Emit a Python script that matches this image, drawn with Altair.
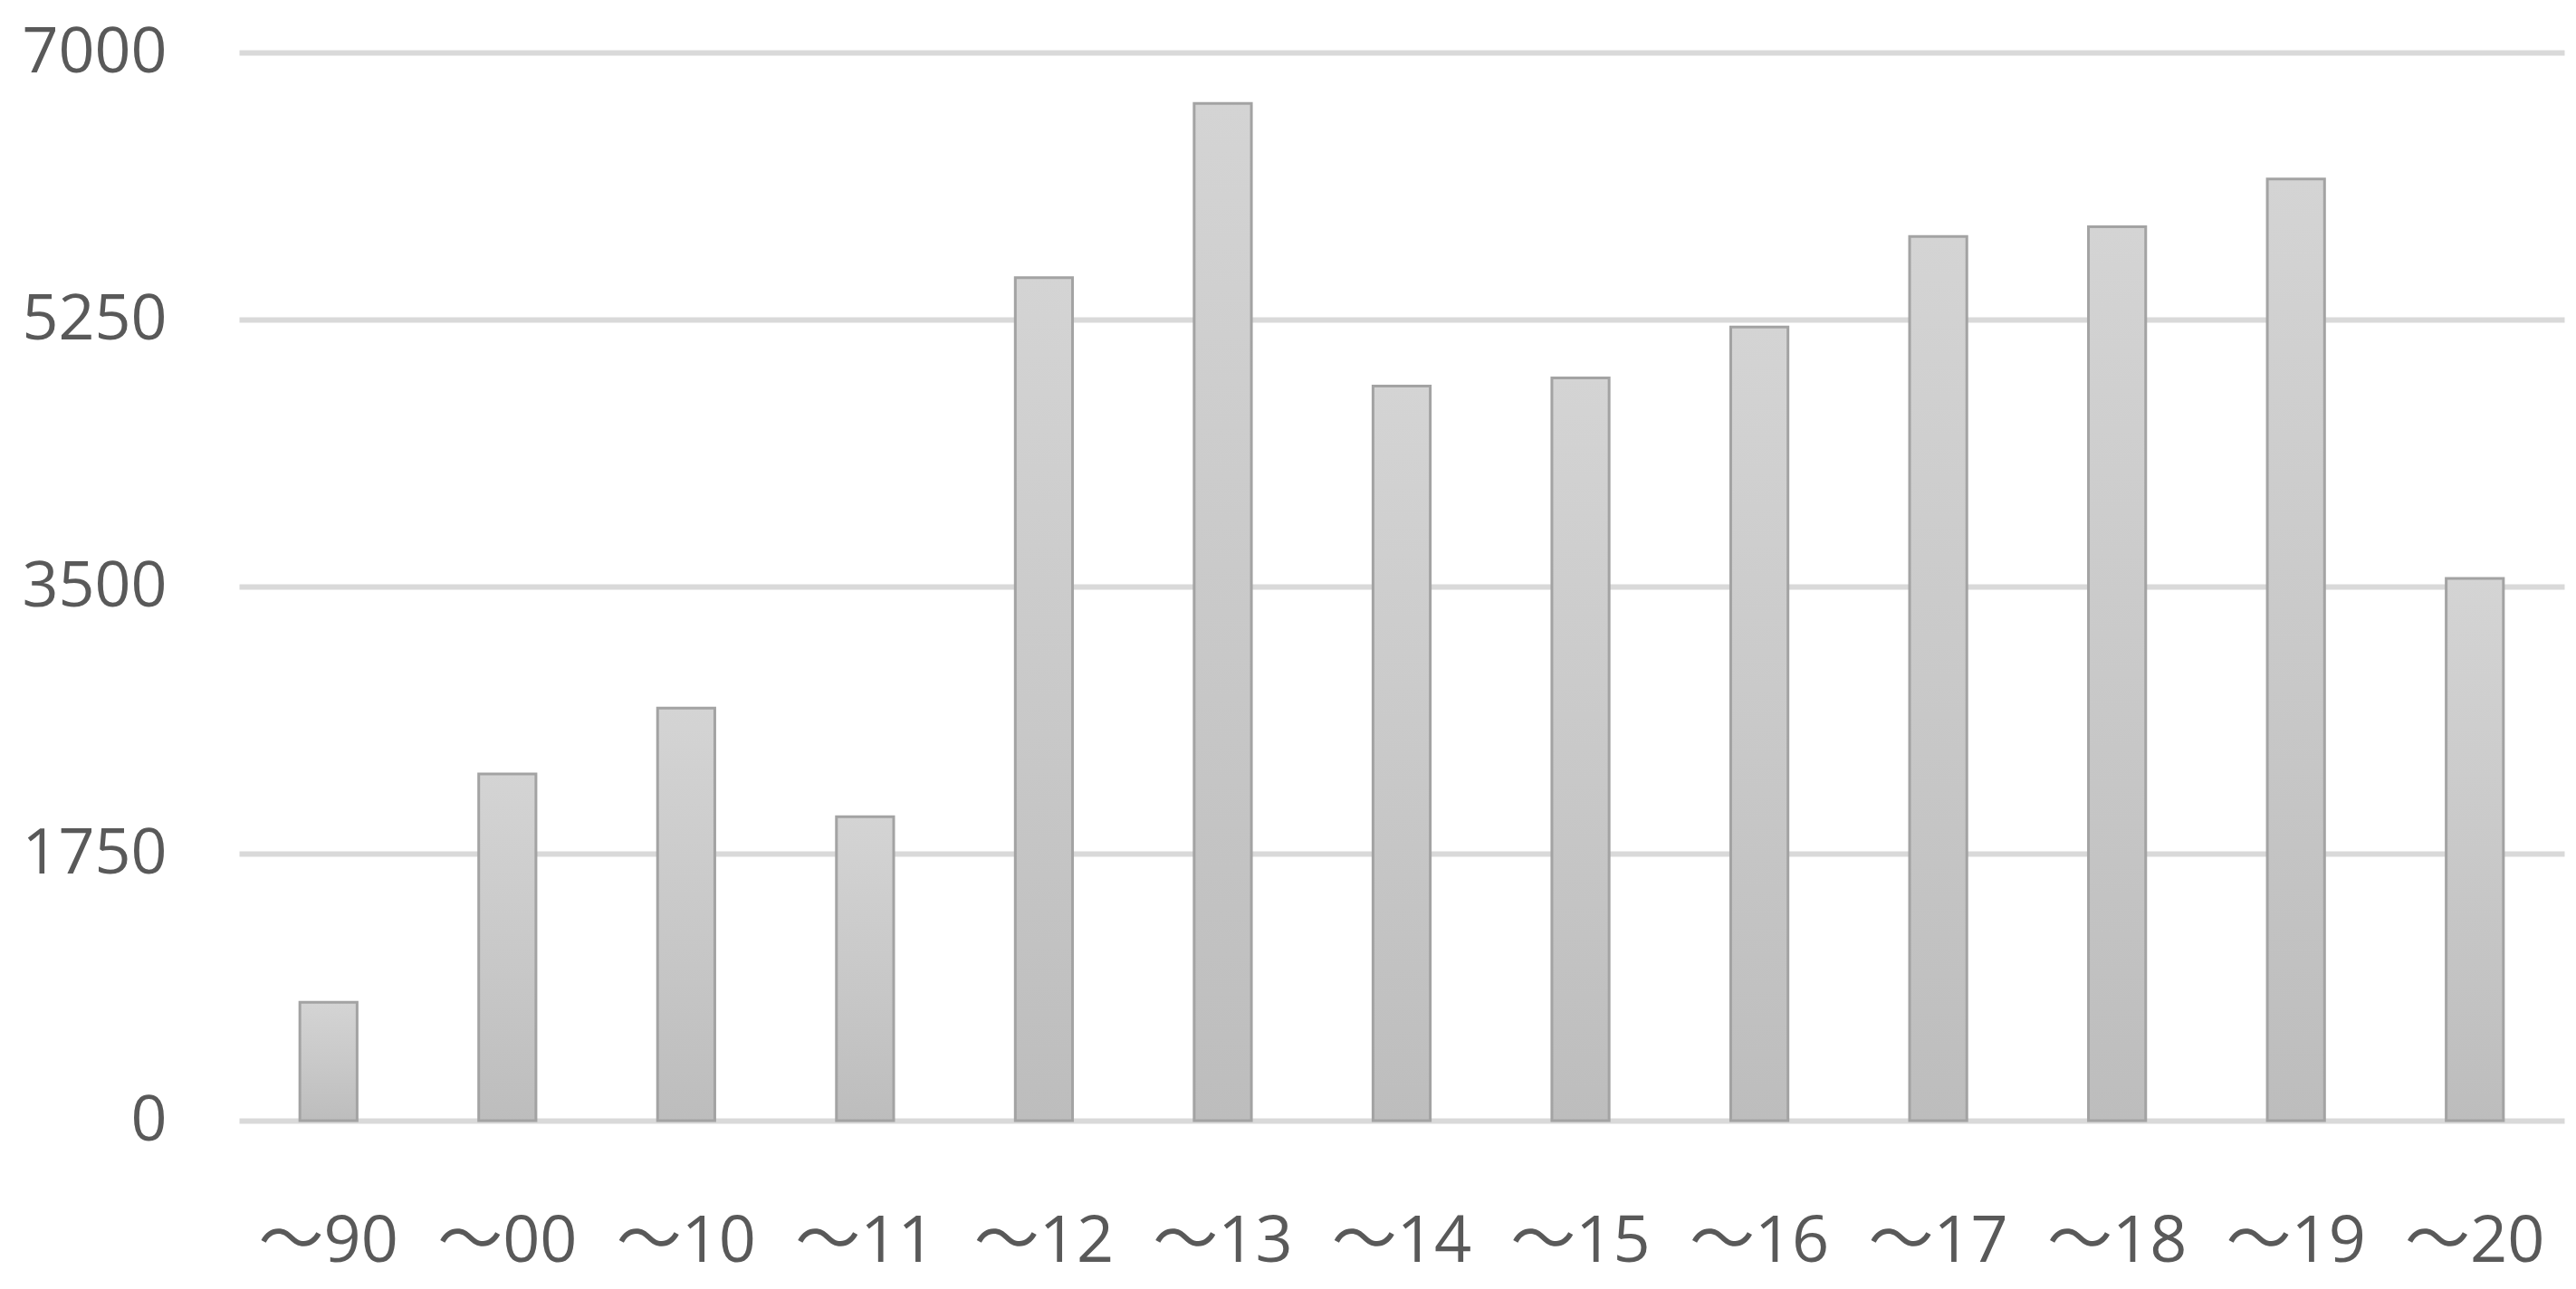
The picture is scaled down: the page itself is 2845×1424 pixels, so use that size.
import altair as alt
import pandas as pd

categories = ["～90", "～00", "～10", "～11", "～12", "～13", "～14", "～15", "～16", "～17", "～18", "～19", "～20"]
values = [775, 2272, 2703, 1992, 5525, 6666, 4814, 4868, 5201, 5794, 5858, 6171, 3554]
y_ticks = [0, 1750, 3500, 5250, 7000]

df = pd.DataFrame({"cat": categories, "val": values})

font = "Open Sans, Noto Sans CJK JP, sans-serif"

bars = alt.Chart(df).mark_bar(
    color=alt.Gradient(
        gradient="linear",
        stops=[alt.GradientStop(color="#d4d4d4", offset=0),
               alt.GradientStop(color="#c9c9c9", offset=0.5),
               alt.GradientStop(color="#bdbdbd", offset=1)],
        x1=0, x2=0, y1=0, y2=1,
    ),
    stroke="#a3a3a3",
    strokeWidth=3,
).encode(
    x=alt.X("cat:N", sort=categories, title=None,
            scale=alt.Scale(paddingInner=0.68, paddingOuter=0.34),
            axis=alt.Axis(labelAngle=0, labelFontSize=72, labelColor="#595959",
                          labelFont=font, labelPadding=98, ticks=False,
                          domain=False, grid=False, labelBaseline="top")),
    y=alt.Y("val:Q", title=None,
            scale=alt.Scale(domain=[0, 7000], nice=False),
            axis=alt.Axis(values=y_ticks, format="d", labelFontSize=70, labelColor="#595959",
                          labelFont=font, labelPadding=80, ticks=False, domain=False,
                          grid=True, gridColor="#d9d9d9", gridWidth=6,
                          labelBaseline="middle")),
)

chart = bars.properties(
    width=2568, height=1180,
    autosize=alt.AutoSizeParams(type="none"),
    padding={"left": 256, "top": 50, "right": 5, "bottom": 178},
).configure(background="white").configure_view(stroke=None, strokeWidth=0)

chart.save("out.html", embed_options={"renderer": "svg", "actions": False})
